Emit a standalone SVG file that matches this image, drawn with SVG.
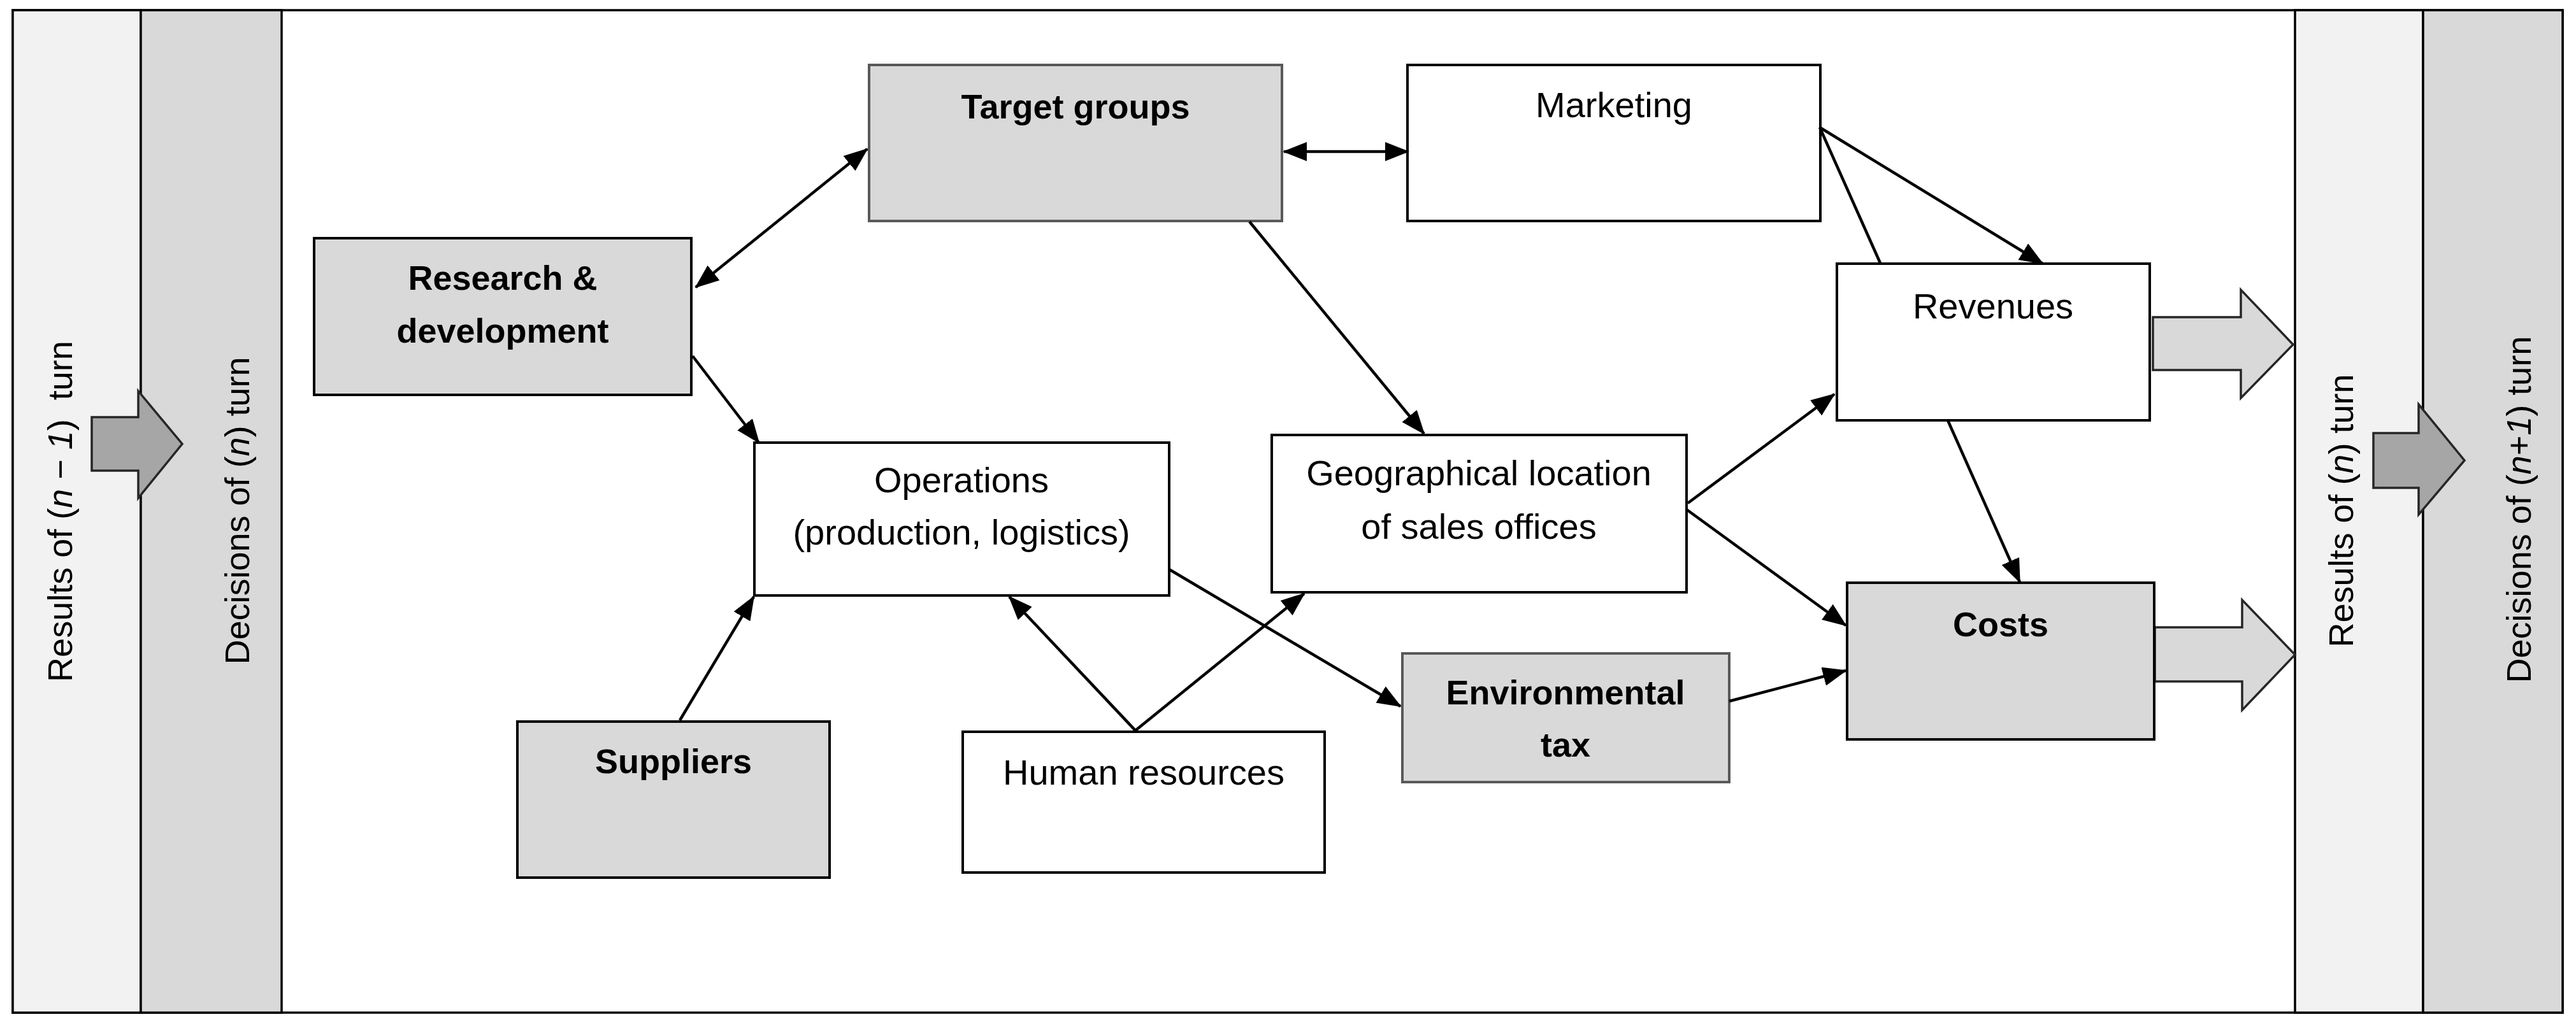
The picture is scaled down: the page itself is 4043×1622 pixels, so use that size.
<svg xmlns="http://www.w3.org/2000/svg" width="4043" height="1622" viewBox="0 0 4043 1622">
<defs>
<marker id="ah" markerUnits="userSpaceOnUse" markerWidth="38" markerHeight="30" viewBox="0 0 38 30" refX="36" refY="15" orient="auto-start-reverse">
<path d="M0,0 L38,15 L0,30 z" fill="#000"/>
</marker>
<style>
.t{font-family:"Liberation Sans",Arial,sans-serif;fill:#000;text-anchor:middle}
.r{font-size:56px}
.b{font-size:54px;font-weight:bold}
.v{font-size:54px}
.box{stroke:#000;stroke-width:4}
.wh{fill:#fff}
.gr{fill:#d9d9d9}
.gb{stroke:#595959}
.c{stroke:#000;stroke-width:4.5;fill:none}
.ca{marker-end:url(#ah)}
.cd{marker-start:url(#ah);marker-end:url(#ah)}
.big{stroke:#262626;stroke-width:3.5}
</style>
</defs>
<rect x="0" y="0" width="4043" height="1622" fill="#fff"/>
<g id="frame">
<rect x="20" y="16" width="4002" height="1574" fill="#fff" stroke="#000" stroke-width="3.5"/>
</g>
<g id="strip-results-n-1">
<rect x="20" y="16" width="201" height="1574" fill="#f2f2f2" stroke="#000" stroke-width="3.5"/>
<text class="t v" transform="translate(113,803) rotate(-90)" xml:space="preserve">Results of (<tspan font-style="italic">n</tspan> − <tspan font-style="italic">1</tspan>)  turn</text>
</g>
<g id="strip-decisions-n">
<rect x="221" y="16" width="221" height="1574" fill="#d9d9d9" stroke="#000" stroke-width="3.5"/>
<text class="t v" transform="translate(391,802) rotate(-90)">Decisions of (<tspan font-style="italic">n</tspan>) turn</text>
</g>
<g id="strip-results-n">
<rect x="3602" y="16" width="201" height="1574" fill="#f2f2f2" stroke="#000" stroke-width="3.5"/>
<text class="t v" transform="translate(3693,802) rotate(-90)">Results of (<tspan font-style="italic">n</tspan>) turn</text>
</g>
<g id="strip-decisions-n1">
<rect x="3803" y="16" width="219" height="1574" fill="#d9d9d9" stroke="#000" stroke-width="3.5"/>
<text class="t v" transform="translate(3972,800) rotate(-90)">Decisions of (<tspan font-style="italic">n</tspan>+<tspan font-style="italic">1</tspan>) turn</text>
</g>
<g id="big-arrows">
<polygon class="big" fill="#a6a6a6" points="144,655 217,655 217,614 286,697 217,782 217,739 144,739"/>
<polygon class="big" fill="#a6a6a6" points="3725,680 3796,680 3796,635 3868,723 3796,808 3796,766 3725,766"/>
<polygon class="big" fill="#d9d9d9" points="3379,498 3517,498 3517,455 3599,541 3517,625 3517,581 3379,581"/>
<polygon class="big" fill="#d9d9d9" points="3382,985 3519,985 3519,942 3602,1028 3519,1115 3519,1070 3382,1070"/>
</g>
<g id="node-rd">
<rect class="box gr" x="493" y="374" width="592" height="246"/>
<text class="t b" x="789" y="455">Research &amp;</text>
<text class="t b" x="789" y="538">development</text>
</g>
<g id="node-target">
<rect class="box gr gb" x="1364" y="102" width="648" height="245"/>
<text class="t b" x="1688" y="186">Target groups</text>
</g>
<g id="node-marketing">
<rect class="box wh" x="2209" y="102" width="648" height="245"/>
<text class="t r" x="2533" y="184">Marketing</text>
</g>
<g id="node-operations">
<rect class="box wh" x="1184" y="695" width="651" height="240"/>
<text class="t r" x="1509" y="773">Operations</text>
<text class="t r" x="1509" y="855">(production, logistics)</text>
</g>
<g id="node-geo">
<rect class="box wh" x="1996" y="683" width="651" height="247"/>
<text class="t r" x="2321" y="762">Geographical location</text>
<text class="t r" x="2321" y="846">of sales offices</text>
</g>
<g id="node-revenues">
<rect class="box wh" x="2883" y="414" width="491" height="246"/>
<text class="t r" x="3128" y="500">Revenues</text>
</g>
<g id="node-costs">
<rect class="box gr" x="2899" y="915" width="482" height="246"/>
<text class="t b" x="3140" y="999">Costs</text>
</g>
<g id="node-suppliers">
<rect class="box gr" x="812" y="1133" width="490" height="245"/>
<text class="t b" x="1057" y="1214">Suppliers</text>
</g>
<g id="node-hr">
<rect class="box wh" x="1511" y="1149" width="568" height="221"/>
<text class="t r" x="1795" y="1232">Human resources</text>
</g>
<g id="node-envtax">
<rect class="box gr gb" x="2201" y="1026" width="513" height="202"/>
<text class="t b" x="2457" y="1106">Environmental</text>
<text class="t b" x="2457" y="1188">tax</text>
</g>
<g id="connectors">
<line class="c cd" x1="1092" y1="451" x2="1361" y2="234"/>
<line class="c cd" x1="2015" y1="238" x2="2210" y2="238"/>
<line class="c ca" x1="1087" y1="559" x2="1191" y2="695"/>
<line class="c ca" x1="1961" y1="348" x2="2235" y2="681"/>
<line class="c" x1="2856" y1="200" x2="2951" y2="413"/>
<line class="c ca" x1="2856" y1="200" x2="3206" y2="414"/>
<line class="c ca" x1="2649" y1="790" x2="2879" y2="619"/>
<line class="c ca" x1="2647" y1="800" x2="2897" y2="982"/>
<line class="c ca" x1="3057" y1="660" x2="3170" y2="914"/>
<line class="c ca" x1="1067" y1="1131" x2="1183" y2="937"/>
<line class="c ca" x1="1782" y1="1147" x2="1584" y2="937"/>
<line class="c ca" x1="1782" y1="1147" x2="2047" y2="932"/>
<line class="c ca" x1="1835" y1="894" x2="2198" y2="1109"/>
<line class="c ca" x1="2714" y1="1101" x2="2897" y2="1053"/>
</g>
</svg>
